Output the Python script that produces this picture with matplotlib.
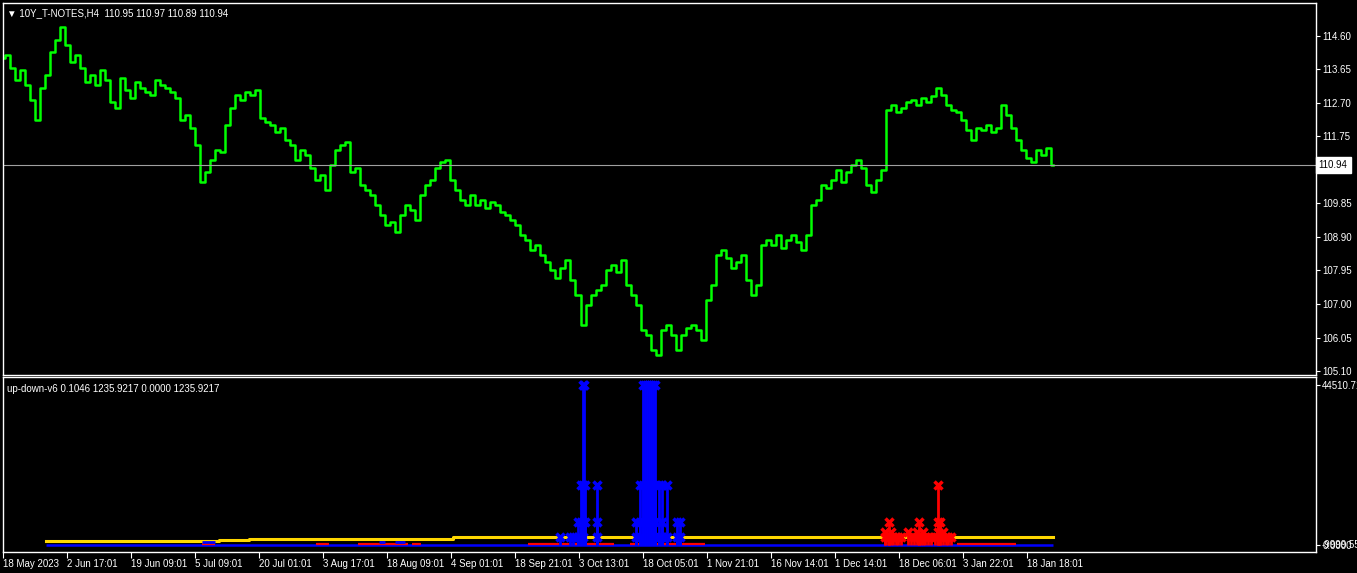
import matplotlib.pyplot as plt
import numpy as np

plt.rcParams['font.family'] = ['Liberation Sans', 'DejaVu Sans']

# 10Y T-Notes H4 closes, one value every 5 bars
closes = [
    113.97, 114.05, 113.68, 113.34, 113.63, 113.20, 112.78, 112.21, 113.12, 113.49,
    114.14, 114.48, 114.85, 114.34, 113.85, 114.05, 113.68, 113.29, 113.49, 113.20,
    113.63, 113.34, 112.72, 112.55, 113.40, 113.06, 112.83, 113.29, 113.12, 113.00,
    112.92, 113.34, 113.20, 113.12, 113.00, 112.83, 112.21, 112.35, 111.98, 111.50,
    110.45, 110.74, 111.08, 111.36, 111.30, 112.07, 112.55, 112.92, 112.78, 113.00,
    112.92, 113.06, 112.27, 112.15, 112.07, 111.87, 111.98, 111.64, 111.50, 111.08,
    111.36, 111.22, 110.85, 110.51, 110.65, 110.23, 110.94, 111.36, 111.50, 111.59,
    110.74, 110.85, 110.37, 110.23, 110.09, 109.80, 109.52, 109.24, 109.32, 109.04,
    109.52, 109.80, 109.66, 109.38, 110.09, 110.37, 110.51, 110.85, 111.02, 111.08,
    110.51, 110.23, 109.95, 109.80, 110.09, 109.80, 109.95, 109.72, 109.89, 109.80,
    109.61, 109.52, 109.38, 109.24, 108.95, 108.81, 108.53, 108.67, 108.39, 108.19,
    107.96, 107.74, 108.02, 108.25, 107.68, 107.25, 106.40, 106.97, 107.25, 107.40,
    107.54, 107.96, 108.10, 107.91, 108.25, 107.54, 107.25, 106.97, 106.26, 106.12,
    105.70, 105.55, 106.26, 106.40, 106.12, 105.70, 106.12, 106.32, 106.40, 106.26,
    105.98, 107.11, 107.54, 108.39, 108.53, 108.30, 108.02, 108.19, 108.39, 107.68,
    107.25, 107.54, 108.67, 108.81, 108.67, 108.95, 108.59, 108.81, 108.95, 108.76,
    108.53, 108.95, 109.80, 109.95, 110.37, 110.29, 110.51, 110.80, 110.45, 110.74,
    110.94, 111.08, 110.85, 110.37, 110.17, 110.51, 110.80, 112.50, 112.64, 112.44,
    112.55, 112.72, 112.78, 112.64, 112.83, 112.72, 112.89, 113.12, 112.92, 112.64,
    112.50, 112.44, 112.21, 111.93, 111.64, 111.98, 111.93, 112.07, 111.87, 111.98,
    112.64, 112.35, 111.98, 111.64, 111.36, 111.14, 111.02, 111.36, 111.22, 111.42,
    110.94,
]
bar_step = 5
last_price = 110.94
price_ticks = [114.60, 113.65, 112.70, 111.75, 110.80, 109.85, 108.90, 107.95, 107.00, 106.05, 105.10]

date_labels = ['18 May 2023', '2 Jun 17:01', '19 Jun 09:01', '5 Jul 09:01', '20 Jul 01:01',
               '3 Aug 17:01', '18 Aug 09:01', '4 Sep 01:01', '18 Sep 21:01', '3 Oct 13:01',
               '18 Oct 05:01', '1 Nov 21:01', '16 Nov 14:01', '1 Dec 14:01', '18 Dec 06:01',
               '3 Jan 22:01', '18 Jan 18:01']
date_bars = [0, 64, 128, 192, 256, 320, 384, 448, 512, 576, 640, 704, 768, 832, 896, 960, 1024]

# up-down-v6 indicator
ind_max = 44510.71
blue_bars = [557, 567, 570, 575, 575, 578, 578, 580, 580, 580, 580, 581, 582, 582,
             594, 594, 594, 633, 633, 637, 637, 637, 640, 640, 640, 642, 642,
             644, 644, 644, 646, 646, 648, 648, 648, 650, 650, 652, 652, 652, 652,
             656, 656, 659, 659, 659, 664, 664, 674, 674, 677, 677]
blue_vals = [2200, 2200, 2200, 6400, 2200, 16700, 6400, 44510.71, 16700, 6400, 2200, 44510.71, 16700, 6400,
             16700, 6400, 2200, 6400, 2200, 16700, 6400, 2200, 44510.71, 16700, 6400, 44510.71, 6400,
             44510.71, 16700, 6400, 44510.71, 6400, 44510.71, 16700, 6400, 44510.71, 6400, 44510.71, 16700, 6400, 2200,
             16700, 2200, 16700, 6400, 2200, 16700, 2200, 6400, 2200, 6400, 2200]
red_bars = [882, 882, 885, 886, 886, 888, 890, 893, 895, 898, 905, 908, 911, 914, 916, 916,
            918, 920, 922, 925, 928, 932, 935, 935, 935, 937, 937, 940, 943, 945, 948]
red_vals = [2200, 3600, 2200, 6400, 2200, 3600, 2200, 2200, 2200, 2200, 3600, 2200, 2200, 3600, 6400, 2200,
            2200, 3600, 2200, 2200, 2200, 2200, 16700, 6400, 3600, 6400, 2200, 3600, 2200, 2200, 2200]
yellow_bars = [43, 216, 246, 450, 1050]
yellow_vals = [1195, 1470, 1800, 2140, 2140]
red_line_from = [199, 313, 355, 409, 525, 627, 954]
red_line_to = [212, 326, 405, 418, 611, 702, 1013]
blue_bump_from = [199, 376, 392]
blue_bump_to = [212, 382, 402]

fig = plt.figure(figsize=(13.57, 5.73), dpi=100, facecolor='black')
ax = fig.add_axes([0.0022, 0.3455, 0.9676, 0.6492])
ax2 = fig.add_axes([0.0022, 0.0366, 0.9676, 0.3055])

for a in (ax, ax2):
    a.set_facecolor('black')
    for s in a.spines.values():
        s.set_color('white')
        s.set_linewidth(1)
    a.set_xlim(0, 1313)
    a.yaxis.tick_right()
    a.tick_params(axis='y', colors='white', labelsize=7, length=3, pad=1.5)

# price panel
x = np.arange(len(closes)) * bar_step
ax.plot(x, closes, color='#00ff00', linewidth=1.8, drawstyle='steps-mid')
ax.axhline(last_price, color='#a0a0a0', linewidth=0.8)
ax.set_ylim(104.988, 115.526)
ax.set_yticks(price_ticks)
ax.set_yticklabels(['%.2f' % p for p in price_ticks])
ax.set_xticks([])
ax.text(1.002, last_price, '%.2f' % last_price, transform=ax.get_yaxis_transform(),
        fontsize=7, color='black', va='center', ha='left', zorder=10, clip_on=False,
        bbox={'facecolor': 'white', 'edgecolor': 'white', 'pad': 2.2})
ax.text(0.003, 0.985, '\u25bc 10Y_T-NOTES,H4  110.95 110.97 110.89 110.94', transform=ax.transAxes,
        fontsize=7, color='white', va='top', ha='left')

# indicator panel
ax2.set_ylim(-1946, 46704)
ax2.step(yellow_bars, yellow_vals, where='post', color='#ffd700', linewidth=2.2)
ax2.hlines(0, 43, 1050, color='#0000ff', linewidth=1.8)
ax2.hlines([250] * len(red_line_from), red_line_from, red_line_to, color='#ff0000', linewidth=1.6)
ax2.hlines([800] * len(blue_bump_from), blue_bump_from, blue_bump_to, color='#0000ff', linewidth=2)
ax2.vlines(blue_bars, 0, blue_vals, color='#0000ff', linewidth=2)
ax2.plot(blue_bars, blue_vals, 'x', color='#0000ff', markersize=6, markeredgewidth=2.5)
ax2.vlines(red_bars, 0, red_vals, color='#ff0000', linewidth=2)
ax2.plot(red_bars, red_vals, 'x', color='#ff0000', markersize=6, markeredgewidth=2.5)
ax2.set_yticks([0, ind_max])
ax2.set_yticklabels(['0.0000', '%.2f' % ind_max])
ax2.text(1.004, 0, '-9999.55', transform=ax2.get_yaxis_transform(), fontsize=7,
         color='white', va='center', ha='left', clip_on=False)
ax2.set_xticks(date_bars)
ax2.set_xticklabels(date_labels, ha='left')
ax2.tick_params(axis='x', colors='white', labelsize=7, length=4, pad=1)
ax2.text(0.003, 0.96, 'up-down-v6 0.1046 1235.9217 0.0000 1235.9217', transform=ax2.transAxes,
         fontsize=7, color='white', va='top', ha='left')

fig.savefig('out.png', dpi=100, facecolor='black')
